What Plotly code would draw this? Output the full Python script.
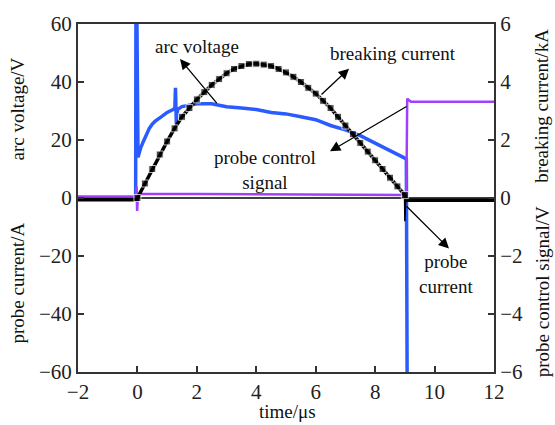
import plotly.graph_objects as go

# ---------------- data ----------------
# breaking current (kA, right axis)
bc_x = [-2, -0.01, 0.0, 0.25, 0.5, 0.75, 1.0, 1.25, 1.5, 1.75, 2.0, 2.25, 2.5, 2.75, 3.0, 3.25, 3.5,
        3.75, 4.0, 4.25, 4.5, 4.75, 5.0, 5.25, 5.5, 5.75, 6.0, 6.25, 6.5, 6.75, 7.0, 7.25, 7.5,
        7.75, 8.0, 8.25, 8.5, 8.75, 9.0, 9.05, 12]
bc_y = [-0.06, -0.06, 0.0, 0.5, 1.0, 1.5, 1.95, 2.4, 2.8, 3.1, 3.4, 3.65, 3.9, 4.1, 4.3, 4.45, 4.55,
        4.62, 4.63, 4.6, 4.55, 4.45, 4.33, 4.18, 4.0, 3.8, 3.6, 3.35, 3.1, 2.8, 2.5, 2.2, 1.9,
        1.6, 1.3, 1.0, 0.7, 0.4, 0.1, -0.08, -0.08]

# arc voltage (V, left axis)
av_x = [-2, -0.06, -0.05, -0.02, 0.02, 0.1, 0.2, 0.3, 0.4, 0.5, 0.6, 0.8, 1.0, 1.2, 1.26, 1.28, 1.31,
        1.35, 1.5, 1.75, 2.0, 2.5, 3.0, 3.5, 4.0, 4.5, 5.0, 5.5, 6.0, 6.5, 7.0, 7.5, 8.0, 8.5,
        9.05, 9.08, 9.09]
av_y = [0, 0, 65, 65, 14, 17, 19.5, 22, 24, 25.5, 26.5, 28, 29.5, 30.5, 31, 38, 25.5,
        30.5, 31.5, 32, 32.5, 32.5, 31.5, 31, 30.5, 29.5, 29, 28, 27, 25, 23.5, 21.5, 19, 16.5,
        13.5, -70, -70]

# probe control signal (V, right axis)
pcs_x = [-2, -0.05, -0.03, -0.01, 0.02, 9.0, 9.05, 9.08, 9.2, 12]
pcs_y = [0.05, 0.05, 0.4, -0.45, 0.15, 0.1, 0.1, 3.42, 3.32, 3.32]

# probe current (A, left axis)
pc_x = [-2, 8.99, 9.0, 9.03, 12]
pc_y = [0, 0, -8, 0, 0]

x_ticks = [-2, 0, 2, 4, 6, 8, 10, 12]
yl_ticks = [-60, -40, -20, 0, 20, 40, 60]
yr_ticks = [-6, -4, -2, 0, 2, 4, 6]
yr_text = ["−6", "−4", "−2", "0", "2", "4", "6"]
yl_text = ["−60", "−40", "−20", "0", "20", "40", "60"]
x_text = ["−2", "0", "2", "4", "6", "8", "10", "12"]

FONT = "Liberation Serif"
AX = "#333333"

fig = go.Figure()
fig.add_trace(go.Scatter(x=av_x, y=av_y, mode="lines",
                         line=dict(color="#2a5bff", width=3.5), yaxis="y"))
fig.add_trace(go.Scatter(x=pcs_x, y=pcs_y, mode="lines",
                         line=dict(color="#a040ff", width=2.5), yaxis="y2"))
msize = [0, 0] + [7] * (len(bc_x) - 4) + [0, 0]
fig.add_trace(go.Scatter(x=bc_x, y=bc_y, mode="lines+markers",
                         line=dict(color="black", width=3.5),
                         marker=dict(symbol="square", size=msize, color="black"),
                         yaxis="y2"))
fig.add_trace(go.Scatter(x=pc_x, y=pc_y, mode="lines",
                         line=dict(color="black", width=1.5), yaxis="y"))


def axis_common():
    return dict(showgrid=False, zeroline=False, showline=True, linecolor=AX, linewidth=2,
                ticks="inside", ticklen=6, tickwidth=1.5, tickcolor=AX,
                tickfont=dict(family=FONT, size=21, color="#222"))


fig.update_layout(
    width=555, height=425,
    margin=dict(l=78, r=61, t=14, b=53),
    paper_bgcolor="white", plot_bgcolor="white",
    showlegend=False,
    font=dict(family=FONT, size=18, color="#111"),
    xaxis=dict(range=[-2, 12], tickvals=x_ticks, ticktext=x_text, mirror=True, **axis_common()),
    yaxis=dict(range=[-60, 60], tickvals=yl_ticks, ticktext=yl_text, **axis_common()),
    yaxis2=dict(range=[-6, 6], tickvals=yr_ticks, ticktext=yr_text, overlaying="y", side="right",
                **axis_common()),
)

L, R, T, B = 78, 494, 14, 372
def px(p):
    return (p - L) / (R - L) * 14 - 2
def py(p):
    return (193 - p) / ((B - T) / 120)
def paper_x(p):
    return (p - L) / (R - L)
def paper_y(p):
    return (B - p) / (B - T)

ann_font = dict(family=FONT, size=19, color="#111")
# text labels
labels = [("arc voltage", 197, 37), ("breaking current", 393, 44),
          ("probe control<br>signal", 265, 164), ("probe<br>current", 446, 271)]
for txt, x0, y0 in labels:
    fig.add_annotation(x=px(x0), y=py(y0), xref="x", yref="y", text=txt, showarrow=False,
                       font=ann_font)
# arrows (head, tail)
arrows = [((180, 50), (218, 97)), ((349, 60), (320, 88)), ((330, 145), (408, 98)),
          ((449, 245), (405, 200))]
for (hx, hy), (tx, ty) in arrows:
    fig.add_annotation(x=px(hx), y=py(hy), xref="x", yref="y", ax=px(tx), ay=py(ty),
                       axref="x", ayref="y", text="", showarrow=True, arrowhead=2,
                       arrowsize=1.6, arrowwidth=1.3, arrowcolor="black")

# axis titles
titles = [("arc voltage/V", 18, 102, -90), ("probe current/A", 18, 281, -90),
          ("breaking current/kA", 542, 98, -90), ("probe control signal/V", 542, 290, -90),
          ("time/μs", 287, 413, 0)]
for txt, x0, y0, ang in titles:
    fig.add_annotation(x=paper_x(x0), y=paper_y(y0), xref="paper", yref="paper", text=txt,
                       showarrow=False, textangle=ang, font=ann_font,
                       xanchor="center", yanchor="middle")

fig.write_html("out.html")
